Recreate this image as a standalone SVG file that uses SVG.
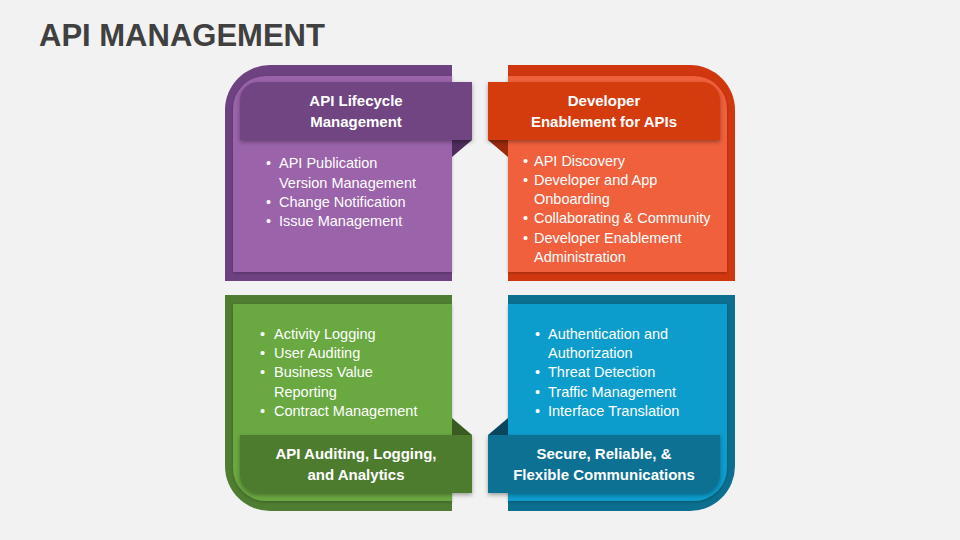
<svg xmlns="http://www.w3.org/2000/svg" width="960" height="540" viewBox="0 0 960 540">
<defs>
<style>
.title{font-family:"Liberation Sans",Arial,sans-serif;font-weight:bold;font-size:31px;fill:#404040}
.hd{font-family:"Liberation Sans",Arial,sans-serif;font-weight:bold;font-size:15px;fill:#fff;text-anchor:middle}
.bl{font-family:"Liberation Sans",Arial,sans-serif;font-size:14.5px;fill:#fff}
</style>
<filter id="sh" x="-10%" y="-20%" width="120%" height="150%">
<feDropShadow dx="0" dy="2" stdDeviation="2" flood-color="#000" flood-opacity="0.35"/>
</filter>
<filter id="sh2" x="-10%" y="-10%" width="120%" height="120%">
<feDropShadow dx="0" dy="1" stdDeviation="1.5" flood-color="#000" flood-opacity="0.25"/>
</filter>
</defs>
<rect width="960" height="540" fill="#f2f2f2"/>
<text class="title" x="39" y="46">API MANAGEMENT</text>

<g id="lifecycle">
<path d="M452 65 H270 A45 45 0 0 0 225 110 V281 H452 Z" fill="#6e4281"/>
<path d="M452 76 H266 A33 33 0 0 0 233 109 V272 H452 Z" fill="#9a63aa" filter="url(#sh2)"/>
<path d="M452 140 H472 L452 157 Z" fill="#4e2d5c"/>
<path d="M472 82 H258 A18 18 0 0 0 240 100 V140 H472 Z" fill="#704482" filter="url(#sh)"/>
<text class="hd" x="356" y="106">API Lifecycle</text>
<text class="hd" x="356" y="127">Management</text>
<text class="bl" x="266" y="168">•</text><text class="bl" x="279" y="168">API Publication</text>
<text class="bl" x="279" y="188">Version Management</text>
<text class="bl" x="266" y="207">•</text><text class="bl" x="279" y="207">Change Notification</text>
<text class="bl" x="266" y="226">•</text><text class="bl" x="279" y="226">Issue Management</text>
</g>

<g id="developer">
<path d="M508 65 H690 A45 45 0 0 1 735 110 V281 H508 Z" fill="#d0370f"/>
<path d="M508 76 H694 A33 33 0 0 1 727 109 V272 H508 Z" fill="#f0603d" filter="url(#sh2)"/>
<path d="M508 140 H488 L508 157 Z" fill="#9a2a0b"/>
<path d="M488 82 H702 A18 18 0 0 1 720 100 V140 H488 Z" fill="#d43a11" filter="url(#sh)"/>
<text class="hd" x="604" y="106">Developer</text>
<text class="hd" x="604" y="127">Enablement for APIs</text>
<text class="bl" x="523" y="166">•</text><text class="bl" x="534" y="166">API Discovery</text>
<text class="bl" x="523" y="185">•</text><text class="bl" x="534" y="185">Developer and App</text>
<text class="bl" x="534" y="204">Onboarding</text>
<text class="bl" x="523" y="223">•</text><text class="bl" x="534" y="223">Collaborating &amp; Community</text>
<text class="bl" x="523" y="243">•</text><text class="bl" x="534" y="243">Developer Enablement</text>
<text class="bl" x="534" y="262">Administration</text>
</g>

<g id="auditing">
<path d="M452 295 V511 H270 A45 45 0 0 1 225 466 V295 Z" fill="#4f7d31"/>
<path d="M452 304 V501 H266 A33 33 0 0 1 233 468 V304 Z" fill="#6aa842" filter="url(#sh2)"/>
<path d="M452 418 L472 435 H452 Z" fill="#3a5c22"/>
<path d="M472 435 V493 H258 A18 18 0 0 1 240 475 V435 Z" fill="#4e7c2f" filter="url(#sh)"/>
<text class="bl" x="260" y="339">•</text><text class="bl" x="274" y="339">Activity Logging</text>
<text class="bl" x="260" y="358">•</text><text class="bl" x="274" y="358">User Auditing</text>
<text class="bl" x="260" y="377">•</text><text class="bl" x="274" y="377">Business Value</text>
<text class="bl" x="274" y="397">Reporting</text>
<text class="bl" x="260" y="416">•</text><text class="bl" x="274" y="416">Contract Management</text>
<text class="hd" x="356" y="459">API Auditing, Logging,</text>
<text class="hd" x="356" y="480">and Analytics</text>
</g>

<g id="secure">
<path d="M508 295 V511 H690 A45 45 0 0 0 735 466 V295 Z" fill="#0c6f90"/>
<path d="M508 304 V501 H694 A33 33 0 0 0 727 468 V304 Z" fill="#0b9dcc" filter="url(#sh2)"/>
<path d="M508 418 L488 435 H508 Z" fill="#08475e"/>
<path d="M488 435 V493 H702 A18 18 0 0 0 720 475 V435 Z" fill="#0a7194" filter="url(#sh)"/>
<text class="bl" x="535" y="339">•</text><text class="bl" x="548" y="339">Authentication and</text>
<text class="bl" x="548" y="358">Authorization</text>
<text class="bl" x="535" y="377">•</text><text class="bl" x="548" y="377">Threat Detection</text>
<text class="bl" x="535" y="397">•</text><text class="bl" x="548" y="397">Traffic Management</text>
<text class="bl" x="535" y="416">•</text><text class="bl" x="548" y="416">Interface Translation</text>
<text class="hd" x="604" y="459">Secure, Reliable, &amp;</text>
<text class="hd" x="604" y="480">Flexible Communications</text>
</g>

<g id="connectors"/>
</svg>
